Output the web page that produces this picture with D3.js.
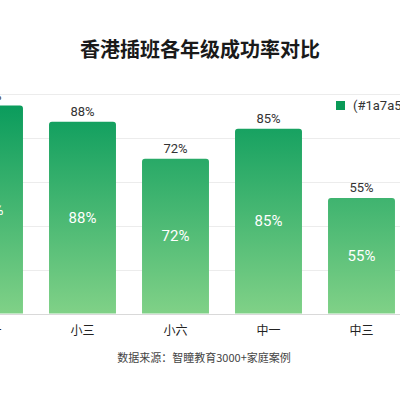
<!DOCTYPE html>
<html lang="zh">
<head>
<meta charset="utf-8">
<title>香港插班各年级成功率对比</title>
<script src="https://d3js.org/d3.v7.min.js"></script>
<style>
  body { margin: 0; background: #fff; font-family: "Noto Sans CJK SC", "Noto Sans", sans-serif; }
</style>
</head>
<body>
<div id="chart"></div>
<script>
// data
var grades = ["小一", "小三", "小六", "中一", "中三"];
var rates = [95, 88, 72, 85, 55];
var gridTicks = [5, 24, 43, 62, 81, 100];
var title = "香港插班各年级成功率对比";
var source = "数据来源：智瞳教育3000+家庭案例";
var legendLabel = "(#1a7a5c)";

var W = 400, H = 400;

var svg = d3.select("#chart").append("svg")
  .attr("width", W)
  .attr("height", H);

var x = d3.scaleBand()
  .domain(grades)
  .range([-57, 408])
  .paddingInner(0.28)
  .paddingOuter(0.14);

var y = d3.scaleLinear()
  .domain([5, 100])
  .range([313.6, 94]);

// gradient across the whole plot height
var defs = svg.append("defs");
var grad = defs.append("linearGradient")
  .attr("id", "barGrad")
  .attr("gradientUnits", "userSpaceOnUse")
  .attr("x1", 0).attr("x2", 0)
  .attr("y1", y(100)).attr("y2", y(5));
grad.append("stop").attr("offset", "0%").attr("stop-color", "#04995a");
grad.append("stop").attr("offset", "100%").attr("stop-color", "#80d187");

// grid
svg.append("g")
  .selectAll("line")
  .data(gridTicks)
  .enter()
  .append("line")
  .attr("x1", 0)
  .attr("x2", W)
  .attr("y1", function(d) { return Math.round(y(d)) + 0.5; })
  .attr("y2", function(d) { return Math.round(y(d)) + 0.5; })
  .attr("stroke", function(d, i) { return i == 0 ? "#d9d9d9" : "#ececec"; })
  .attr("stroke-width", 1);

// bars
svg.append("g")
  .selectAll("path")
  .data(grades)
  .enter()
  .append("path")
  .attr("fill", "url(#barGrad)")
  .attr("d", function(d, i) {
    var x0 = x(d), w = x.bandwidth(), t = y(rates[i]), b = y(5), r = 3;
    return "M" + x0 + "," + b +
      "V" + (t + r) +
      "Q" + x0 + "," + t + " " + (x0 + r) + "," + t +
      "H" + (x0 + w - r) +
      "Q" + (x0 + w) + "," + t + " " + (x0 + w) + "," + (t + r) +
      "V" + b + "Z";
  });

// value labels above bars
svg.append("g")
  .selectAll("text")
  .data(grades)
  .enter()
  .append("text")
  .attr("x", function(d) { return x(d) + x.bandwidth() / 2; })
  .attr("y", function(d, i) { return y(rates[i]) - 6; })
  .attr("text-anchor", "middle")
  .style("font-size", "13px")
  .style("font-family", "Roboto, 'Noto Sans', sans-serif")
  .attr("fill", "#333")
  .text(function(d, i) { return rates[i] + "%"; });

// value labels inside bars
svg.append("g")
  .selectAll("text")
  .data(grades)
  .enter()
  .append("text")
  .attr("x", function(d) { return x(d) + x.bandwidth() / 2; })
  .attr("y", function(d, i) { return (y(rates[i]) + y(5)) / 2; })
  .attr("dy", "0.35em")
  .attr("text-anchor", "middle")
  .style("font-size", "15px")
  .style("font-family", "Roboto, 'Noto Sans', sans-serif")
  .attr("fill", "#fff")
  .text(function(d, i) { return rates[i] + "%"; });

// category labels
svg.append("g")
  .selectAll("text")
  .data(grades)
  .enter()
  .append("text")
  .attr("x", function(d) { return x(d) + x.bandwidth() / 2; })
  .attr("y", 335)
  .attr("text-anchor", "middle")
  .style("font-size", "12px")
  .attr("fill", "#222")
  .text(function(d) { return d; });

// title
svg.append("text")
  .attr("x", 200)
  .attr("y", 57)
  .attr("text-anchor", "middle")
  .style("font-size", "20px")
  .style("font-weight", "bold")
  .attr("fill", "#1a1a1a")
  .text(title);

// source
svg.append("text")
  .attr("x", 204)
  .attr("y", 362)
  .attr("text-anchor", "middle")
  .style("font-size", "11px")
  .attr("fill", "#444")
  .text(source);

// legend
svg.append("rect")
  .attr("x", 336)
  .attr("y", 101)
  .attr("width", 9)
  .attr("height", 9)
  .attr("fill", "#0a9a57");
svg.append("text")
  .attr("x", 353)
  .attr("y", 110)
  .style("font-size", "13px")
  .style("font-family", "Roboto, 'Noto Sans', sans-serif")
  .attr("fill", "#333")
  .text(legendLabel);
</script>
</body>
</html>
